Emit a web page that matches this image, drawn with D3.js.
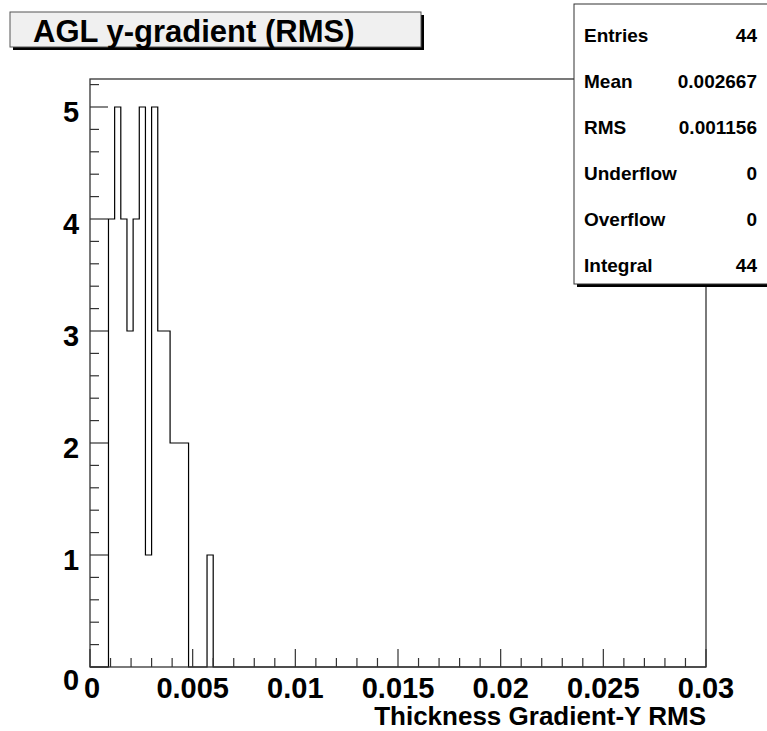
<!DOCTYPE html>
<html>
<head>
<meta charset="utf-8">
<script src="https://d3js.org/d3.v7.min.js"></script>
<style>
  body { margin: 0; background: #fff; }
  svg { display: block; }
  text { font-family: "Liberation Sans", Arial, Helvetica, sans-serif; font-weight: bold; fill: #000; }
</style>
</head>
<body>
<div id="chart"></div>
<script>
// ---- data ----
const title = "AGL y-gradient (RMS)";
const xTitle = "Thickness Gradient-Y RMS";
const xDomain = [0, 0.03];
const yDomain = [0, 5.25];
const binWidth = 0.0003;
// lower edges of non-empty bins and their counts
const binLow =   [0.0009, 0.0012, 0.0015, 0.0018, 0.0021, 0.0024, 0.0027, 0.0030, 0.0033, 0.0036, 0.0039, 0.0042, 0.0045, 0.0057];
const binCount = [4,      5,      4,      3,      4,      5,      1,      5,      3,      3,      2,      2,      2,      1];
const xTickValues = [0, 0.005, 0.01, 0.015, 0.02, 0.025, 0.03];
const xTickLabels = ["0", "0.005", "0.01", "0.015", "0.02", "0.025", "0.03"];
const yTickValues = [0, 1, 2, 3, 4, 5];
const yTickLabels = ["0", "1", "2", "3", "4", "5"];
const statNames = ["Entries", "Mean", "RMS", "Underflow", "Overflow", "Integral"];
const statValues = ["44", "0.002667", "0.001156", "0", "0", "44"];

// ---- layout ----
const W = 767, H = 731;
const m = { left: 90, right: 706, top: 79, bottom: 667 };

const svg = d3.select("#chart").append("svg").attr("width", W).attr("height", H);

const x = d3.scaleLinear().domain(xDomain).range([m.left, m.right]);
const y = d3.scaleLinear().domain(yDomain).range([m.bottom, m.top]);

// histogram step outline
const nBins = Math.round((xDomain[1] - xDomain[0]) / binWidth);
const counts = new Array(nBins).fill(0);
binLow.forEach((lo, i) => { counts[Math.round(lo / binWidth)] = binCount[i]; });
const pts = [[xDomain[0], 0]];
counts.forEach((c, k) => {
  const lo = xDomain[0] + k * binWidth, hi = lo + binWidth;
  pts.push([lo, c]); pts.push([hi, c]);
});
pts.push([xDomain[1], 0]);
const line = d3.line().x(d => x(d[0])).y(d => y(d[1]));
svg.append("path").attr("d", line(pts)).attr("fill", "none")
  .attr("stroke", "#000").attr("stroke-width", 1.2);

// frame
svg.append("rect").attr("x", m.left).attr("y", m.top)
  .attr("width", m.right - m.left).attr("height", m.bottom - m.top)
  .attr("fill", "none").attr("stroke", "#333").attr("stroke-width", 1.3);

// x ticks
const xMinor = d3.range(0, 31).map(i => i * 0.001);
svg.append("g").selectAll("line").data(xMinor).join("line")
  .attr("x1", d => x(d)).attr("x2", d => x(d))
  .attr("y1", m.bottom).attr("y2", (d, i) => m.bottom - (i % 5 === 0 ? 18 : 9))
  .attr("stroke", "#333").attr("stroke-width", 1.2);
svg.append("g").selectAll("text").data(xTickValues).join("text")
  .attr("x", (d, i) => x(d) + (i === 0 ? 2 : 0)).attr("y", 698)
  .attr("text-anchor", "middle").attr("font-size", 29)
  .text((d, i) => xTickLabels[i]);

// y ticks
const yMinor = d3.range(0, 27).map(i => i * 0.2);
svg.append("g").selectAll("line").data(yMinor).join("line")
  .attr("y1", d => y(d)).attr("y2", d => y(d))
  .attr("x1", m.left).attr("x2", (d, i) => m.left + (i % 5 === 0 ? 18 : 9))
  .attr("stroke", "#333").attr("stroke-width", 1.2);
svg.append("g").selectAll("text").data(yTickValues).join("text")
  .attr("x", 71).attr("y", d => y(d) + (d === 0 ? 23 : 14.5))
  .attr("text-anchor", "middle").attr("font-size", 29)
  .text((d, i) => yTickLabels[i]);

// x title
svg.append("text").attr("x", m.right).attr("y", 725)
  .attr("text-anchor", "end").attr("font-size", 26).text(xTitle);

// title box
svg.append("rect").attr("x", 13).attr("y", 15).attr("width", 411).attr("height", 35).attr("fill", "#000");
svg.append("rect").attr("x", 10).attr("y", 12).attr("width", 411).attr("height", 35)
  .attr("fill", "#f0f0f0").attr("stroke", "#555").attr("stroke-width", 1);
svg.append("text").attr("x", 33).attr("y", 42).attr("font-size", 31).text(title);

// stats box
const sx = 574, sy = 4, sw = 200, sh = 280;
svg.append("rect").attr("x", sx + 3).attr("y", sy + 3).attr("width", sw).attr("height", sh).attr("fill", "#000");
svg.append("rect").attr("x", sx).attr("y", sy).attr("width", sw).attr("height", sh)
  .attr("fill", "#fff").attr("stroke", "#333").attr("stroke-width", 1);
const rowY = d3.scaleLinear().domain([0, statNames.length - 1]).range([35, 265]);
statNames.forEach((n, i) => {
  const cy = rowY(i);
  svg.append("text").attr("x", 584).attr("y", cy + 7).attr("font-size", 19).text(n);
  svg.append("text").attr("x", 757).attr("y", cy + 7).attr("text-anchor", "end").attr("font-size", 19).text(statValues[i]);
});
</script>
</body>
</html>
